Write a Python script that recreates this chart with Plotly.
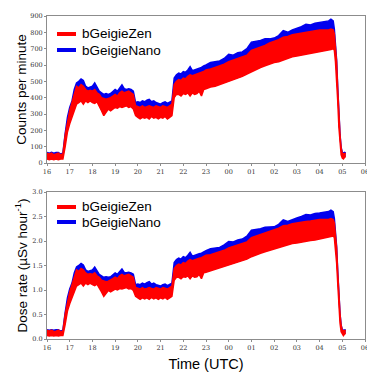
import plotly.graph_objects as go

# time in hours (16 = 16:00 UTC, 24 = 00:00 next day)
hours = [16.0, 16.1, 16.2, 16.3, 16.4, 16.5, 16.6, 16.7, 16.8, 16.9,
         17.0, 17.1, 17.2, 17.3, 17.4, 17.5, 17.6, 17.7, 17.8, 17.9,
         18.0, 18.1, 18.2, 18.3, 18.4, 18.5, 18.6, 18.7, 18.8, 18.9,
         19.0, 19.1, 19.2, 19.3, 19.4, 19.5, 19.6, 19.7, 19.8, 19.9,
         20.0, 20.1, 20.2, 20.3, 20.4, 20.5, 20.6, 20.7, 20.8, 20.9,
         21.0, 21.1, 21.2, 21.3, 21.4, 21.5, 21.6, 21.7, 21.8, 21.9,
         22.0, 22.1, 22.2, 22.3, 22.4, 22.5, 22.6, 22.7, 22.8, 22.9,
         23.0, 23.2, 23.4, 23.6, 23.8, 24.0, 24.2, 24.4, 24.6, 24.8,
         25.0, 25.2, 25.4, 25.6, 25.8, 26.0, 26.2, 26.4, 26.6, 26.8,
         27.0, 27.2, 27.4, 27.6, 27.8, 28.0, 28.2, 28.4, 28.5, 28.6,
         28.65, 28.7, 28.75, 28.8, 28.85, 28.9, 28.95, 29.0, 29.05, 29.1, 29.15]

# Counts per minute: bGeigieZen band (low / high) and bGeigieNano upper edge
zen_cpm_lo = [25, 20, 25, 20, 25, 20, 25, 25, 100, 190,
              240, 280, 330, 360, 370, 380, 360, 380, 370, 380,
              370, 365, 375, 350, 320, 290, 310, 330, 320, 330,
              340, 335, 345, 340, 345, 350, 340, 345, 330, 290,
              280, 270, 280, 275, 280, 270, 285, 275, 280, 270,
              280, 275, 285, 270, 280, 290, 400, 420, 420, 410,
              425, 420, 430, 410, 430, 420, 425, 440, 410, 450,
              455, 465, 470, 480, 490, 500, 510, 520, 530, 545,
              560, 575, 585, 595, 605, 615, 620, 630, 640, 650,
              655, 660, 665, 670, 675, 680, 685, 690, 695, 700,
              690, 620, 520, 380, 220, 110, 50, 30, 25, 35, 40]
zen_cpm_hi = [60, 55, 60, 50, 55, 60, 50, 55, 170, 260,
              320, 370, 430, 470, 460, 480, 470, 450, 440, 445,
              440, 450, 430, 420, 400, 395, 390, 395, 400, 410,
              420, 410, 430, 440, 430, 435, 440, 430, 420, 350,
              345, 340, 350, 340, 345, 350, 345, 340, 350, 345,
              340, 350, 345, 340, 350, 360, 480, 500, 510, 505,
              520, 515, 530, 540, 535, 540, 545, 550, 555, 560,
              570, 575, 585, 595, 605, 620, 630, 640, 650, 660,
              690, 700, 710, 720, 735, 745, 755, 770, 775, 785,
              790, 795, 800, 805, 810, 815, 815, 815, 820, 815,
              790, 720, 620, 450, 290, 170, 90, 60, 55, 60, 60]
nano_cpm_hi = [65, 60, 65, 60, 65, 65, 55, 60, 180, 280,
               340, 380, 450, 490, 500, 515, 505, 470, 460, 465,
               470, 490, 460, 440, 430, 420, 425, 420, 425, 440,
               450, 440, 460, 478, 455, 450, 455, 450, 440, 370,
               375, 370, 380, 375, 385, 390, 375, 380, 370, 365,
               360, 370, 375, 365, 375, 380, 520, 540, 550, 545,
               560, 555, 570, 590, 565, 570, 575, 580, 585, 595,
               600, 615, 620, 625, 640, 665, 660, 675, 680, 700,
               740, 745, 750, 760, 760, 765, 780, 810, 800, 815,
               825, 835, 850, 845, 855, 860, 865, 870, 880, 870,
               820, 740, 630, 460, 300, 175, 95, 65, 60, 65, 62]

# Dose rate (uSv/h): same layout
zen_dose_lo = [0.07, 0.06, 0.07, 0.06, 0.07, 0.06, 0.07, 0.07, 0.30, 0.57,
               0.72, 0.84, 0.99, 1.08, 1.11, 1.14, 1.08, 1.14, 1.11, 1.14,
               1.11, 1.09, 1.12, 1.05, 0.96, 0.87, 0.93, 0.99, 0.96, 0.99,
               1.02, 1.00, 1.03, 1.02, 1.03, 1.05, 1.02, 1.03, 0.99, 0.87,
               0.84, 0.81, 0.84, 0.82, 0.84, 0.81, 0.85, 0.82, 0.84, 0.81,
               0.84, 0.82, 0.85, 0.81, 0.84, 0.87, 1.20, 1.26, 1.26, 1.23,
               1.27, 1.26, 1.29, 1.23, 1.29, 1.26, 1.27, 1.32, 1.23, 1.35,
               1.36, 1.39, 1.41, 1.44, 1.47, 1.50, 1.53, 1.56, 1.59, 1.63,
               1.68, 1.72, 1.75, 1.78, 1.81, 1.84, 1.86, 1.89, 1.92, 1.95,
               1.96, 1.98, 1.99, 2.01, 2.02, 2.04, 2.05, 2.07, 2.08, 2.10,
               2.07, 1.86, 1.56, 1.14, 0.66, 0.33, 0.15, 0.09, 0.07, 0.10, 0.12]
zen_dose_hi = [0.18, 0.16, 0.18, 0.15, 0.16, 0.18, 0.15, 0.16, 0.51, 0.78,
               0.96, 1.11, 1.29, 1.41, 1.38, 1.44, 1.41, 1.35, 1.32, 1.33,
               1.32, 1.35, 1.29, 1.26, 1.20, 1.18, 1.17, 1.18, 1.20, 1.23,
               1.26, 1.23, 1.29, 1.32, 1.29, 1.30, 1.32, 1.29, 1.26, 1.05,
               1.03, 1.02, 1.05, 1.02, 1.03, 1.05, 1.03, 1.02, 1.05, 1.03,
               1.02, 1.05, 1.03, 1.02, 1.05, 1.08, 1.44, 1.50, 1.53, 1.51,
               1.56, 1.54, 1.59, 1.62, 1.60, 1.62, 1.63, 1.65, 1.66, 1.68,
               1.71, 1.72, 1.75, 1.78, 1.81, 1.86, 1.89, 1.92, 1.95, 1.98,
               2.07, 2.10, 2.13, 2.16, 2.20, 2.23, 2.26, 2.31, 2.32, 2.35,
               2.37, 2.38, 2.40, 2.41, 2.43, 2.44, 2.44, 2.44, 2.46, 2.44,
               2.37, 2.16, 1.86, 1.35, 0.87, 0.51, 0.27, 0.18, 0.16, 0.18, 0.18]
nano_dose_hi = [0.19, 0.18, 0.19, 0.18, 0.19, 0.19, 0.16, 0.18, 0.54, 0.84,
                1.02, 1.14, 1.35, 1.47, 1.50, 1.54, 1.51, 1.41, 1.38, 1.39,
                1.41, 1.47, 1.38, 1.32, 1.29, 1.26, 1.27, 1.26, 1.27, 1.32,
                1.35, 1.32, 1.38, 1.43, 1.36, 1.35, 1.36, 1.35, 1.32, 1.11,
                1.12, 1.11, 1.14, 1.12, 1.15, 1.17, 1.12, 1.14, 1.11, 1.09,
                1.08, 1.11, 1.12, 1.09, 1.12, 1.14, 1.56, 1.62, 1.65, 1.63,
                1.68, 1.66, 1.71, 1.77, 1.69, 1.71, 1.72, 1.74, 1.75, 1.78,
                1.80, 1.84, 1.86, 1.87, 1.92, 1.99, 1.98, 2.02, 2.04, 2.10,
                2.22, 2.23, 2.25, 2.28, 2.28, 2.29, 2.34, 2.43, 2.40, 2.44,
                2.47, 2.50, 2.54, 2.53, 2.56, 2.57, 2.59, 2.60, 2.63, 2.60,
                2.46, 2.22, 1.89, 1.38, 0.90, 0.52, 0.28, 0.19, 0.18, 0.19, 0.19]

tick_vals = list(range(16, 31))
tick_text = ["16", "17", "18", "19", "20", "21", "22", "23",
             "00", "01", "02", "03", "04", "05", "06"]

series_names = ["bGeigieZen", "bGeigieNano"]

RED = "#ff0000"
BLUE = "#0000ee"
FONT = "Liberation Sans"

# the page body has an 8px margin, so the figure is drawn 8px in from the
# window's top-left corner; size and place it so it fits the 375x383 window
OFF = 8
W, H = 375 - OFF, 383 - OFF
PLOT_L, PLOT_R, PLOT_T, PLOT_B = 47, 365, 16, 339   # window pixels
ML, MR, MT, MB = PLOT_L - OFF, W - (PLOT_R - OFF), PLOT_T - OFF, H - (PLOT_B - OFF)
PW, PH = W - ML - MR, H - MT - MB


def px(x):
    return (x - PLOT_L) / PW


def py(y):
    return (PLOT_B - y) / PH


fig = go.Figure()


def add_panel(xa, ya, lo, nano_hi, zen_hi):
    # blue band (its lower edge lies hidden beneath the red band)
    fig.add_trace(go.Scatter(x=hours, y=lo, xaxis=xa, yaxis=ya, mode="lines",
                             line=dict(color=BLUE, width=0), showlegend=False,
                             hoverinfo="skip"))
    fig.add_trace(go.Scatter(x=hours, y=nano_hi, xaxis=xa, yaxis=ya, mode="lines",
                             line=dict(color=BLUE, width=1.5), fill="tonexty",
                             fillcolor=BLUE, showlegend=False, name=series_names[1]))
    fig.add_trace(go.Scatter(x=hours, y=lo, xaxis=xa, yaxis=ya, mode="lines",
                             line=dict(color=RED, width=1.5), showlegend=False,
                             hoverinfo="skip"))
    fig.add_trace(go.Scatter(x=hours, y=zen_hi, xaxis=xa, yaxis=ya, mode="lines",
                             line=dict(color=RED, width=1.5), fill="tonexty",
                             fillcolor=RED, showlegend=False, name=series_names[0]))


add_panel("x", "y", zen_cpm_lo, nano_cpm_hi, zen_cpm_hi)
add_panel("x2", "y2", zen_dose_lo, nano_dose_hi, zen_dose_hi)

# legends (line sample + label) for each panel
shapes, annotations = [], []
for rows in ([34, 50], [207, 222]):
    for name, color, yy in zip(series_names, [RED, BLUE], rows):
        shapes.append(dict(type="line", xref="paper", yref="paper",
                           x0=px(57), x1=px(76), y0=py(yy), y1=py(yy),
                           line=dict(color=color, width=4)))
        annotations.append(dict(text=name, xref="paper", yref="paper",
                                x=px(80), y=py(yy), xanchor="left", yanchor="middle",
                                showarrow=False,
                                font=dict(family=FONT, size=13.5, color="black")))

axis_common = dict(showline=True, linecolor="#8c8c8c", linewidth=1, mirror=True,
                   ticks="outside", ticklen=2, tickcolor="#8c8c8c", showgrid=False,
                   zeroline=False, automargin=False,
                   tickfont=dict(family="DejaVu Serif", size=6.5, color="#333"))

fig.update_layout(
    width=W, height=H,
    margin=dict(l=ML, r=MR, t=MT, b=MB),
    paper_bgcolor="white", plot_bgcolor="white",
    font=dict(family=FONT, color="black"),
    showlegend=False,
    shapes=shapes, annotations=annotations,
    xaxis=dict(domain=[0, 1], anchor="y", range=[16, 30], tickvals=tick_vals,
               ticktext=tick_text, **axis_common),
    yaxis=dict(domain=[py(163), 1], anchor="x", range=[0, 900], dtick=100,
               title=dict(text="Counts per minute", font=dict(size=13.5), standoff=0),
               **axis_common),
    xaxis2=dict(domain=[0, 1], anchor="y2", range=[16, 30], tickvals=tick_vals,
                ticktext=tick_text,
                title=dict(text="Time (UTC)", font=dict(size=14.5), standoff=8),
                **axis_common),
    yaxis2=dict(domain=[0, py(192)], anchor="x2", range=[0, 3], dtick=0.5,
                tickformat=".1f",
                title=dict(text="Dose rate (µSv hour<sup>-1</sup>)", font=dict(size=13.5),
                           standoff=1),
                **axis_common),
)

fig.write_html("out.html")
